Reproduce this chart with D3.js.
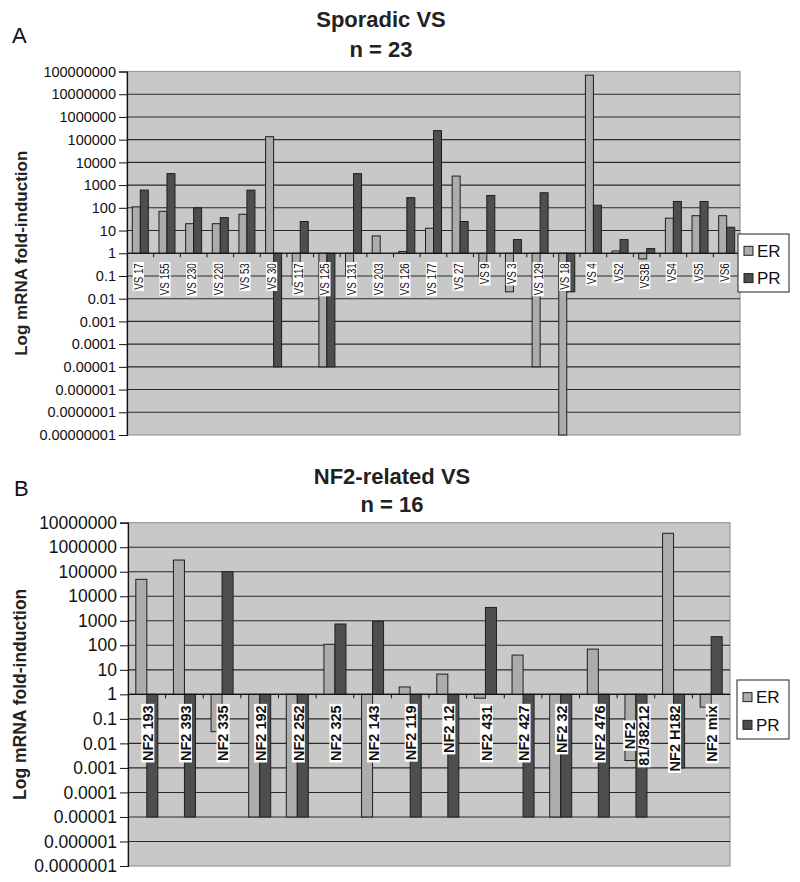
<!DOCTYPE html>
<html><head><meta charset="utf-8">
<script src="https://cdn.jsdelivr.net/npm/d3@7"></script>
<style>body{margin:0;background:#fff}</style>
</head><body><svg id="c" width="800" height="882"></svg>
<script>
const seriesNames = ["ER", "PR"];

const sporadicCats = ["VS 17","VS 155","VS 230","VS 220","VS 53","VS 30","VS 117","VS 125","VS 131","VS 203","VS 126","VS 177","VS 27","VS 9","VS 3","VS 129","VS 18","VS 4","VS2","VS3B","VS4","VS5","VS6"];
const sporadicER = [110,70,20,20,52,135000,0.04,0.00001,0.1,5.8,1.2,12.6,2500,0.1,0.02,0.00001,0.00000001,69000000,1.26,0.56,35,45,45];
const sporadicPR = [600,3200,100,37,600,0.00001,25,0.00001,3200,1,280,250000,25,350,4,460,0.02,130,4,1.6,190,190,14];
const sporadicTicks = ["100000000","10000000","1000000","100000","10000","1000","100","10","1","0.1","0.01","0.001","0.0001","0.00001","0.000001","0.0000001","0.00000001"];

const nf2Cats = ["NF2 193","NF2 393","NF2 335","NF2 192","NF2 252","NF2 325","NF2 143","NF2 119","NF2 12","NF2 431","NF2 427","NF2 32","NF2 476","NF2\n81/38212","NF2 H182","NF2 mix"];
const nf2ER = [49000,300000,0.03,0.00001,0.00001,110,0.00001,2,6.7,0.7,40,0.00001,70,0.002,3700000,0.3];
const nf2PR = [0.00001,0.00001,100000,0.00001,0.00001,740,950,0.00001,0.00001,3500,0.00001,0.00001,0.00001,0.00001,0.001,225];
const nf2Ticks = ["10000000","1000000","100000","10000","1000","100","10","1","0.1","0.01","0.001","0.0001","0.00001","0.000001","0.0000001"];

const COLORS = {bg:"#c8c8c8", ER:"#acacac", PR:"#4e4e4e", grid:"#2a2a2a", border:"#9a9a9a"};
const FONT = "Liberation Sans, Arial, sans-serif";
const svg = d3.select("#c");

function panel(cfg) {
  const g = svg.append("g");
  const y = d3.scaleLog().domain([cfg.ymin, cfg.ymax]).range([cfg.bottom, cfg.top]);
  const x0 = d3.scaleBand().domain(cfg.cats).range([cfg.left, cfg.right]).paddingInner(cfg.pad).paddingOuter(cfg.pad/2);
  const x1 = d3.scaleBand().domain(seriesNames).range([0, x0.bandwidth()]);

  g.append("rect").attr("x", cfg.left).attr("y", cfg.top).attr("width", cfg.right-cfg.left).attr("height", cfg.bottom-cfg.top)
    .attr("fill", COLORS.bg).attr("stroke", COLORS.border).attr("stroke-width", 1.2);

  const tickVals = cfg.ticks.map(t => +t);
  g.append("g").selectAll("line").data(tickVals.filter(v => v !== cfg.ymin && v !== cfg.ymax)).join("line")
    .attr("x1", cfg.left).attr("x2", cfg.right).attr("y1", d => y(d)).attr("y2", d => y(d))
    .attr("stroke", COLORS.grid).attr("stroke-width", 1.1);

  const data = [];
  cfg.cats.forEach((c, i) => {
    data.push({cat: c, s: "ER", v: cfg.er[i]});
    data.push({cat: c, s: "PR", v: cfg.pr[i]});
  });
  g.append("g").selectAll("rect").data(data).join("rect")
    .attr("x", d => x0(d.cat) + x1(d.s))
    .attr("width", x1.bandwidth())
    .attr("y", d => y(Math.max(d.v, 1)))
    .attr("height", d => Math.abs(y(d.v) - y(1)))
    .attr("fill", d => COLORS[d.s]).attr("stroke", "#1e1e1e").attr("stroke-width", 1);

  const y1 = y(1);
  g.append("line").attr("x1", cfg.left).attr("x2", cfg.right).attr("y1", y1).attr("y2", y1).attr("stroke", "#111").attr("stroke-width", 1.2);
  const step = x0.step();
  g.append("g").selectAll("line").data(d3.range(1, cfg.cats.length)).join("line")
    .attr("x1", d => cfg.left + d*step).attr("x2", d => cfg.left + d*step)
    .attr("y1", y1).attr("y2", y1 + 4).attr("stroke", "#111").attr("stroke-width", 1);

  const ax = d3.axisLeft(y).tickValues(tickVals).tickFormat((d, i) => cfg.ticks[i]).tickSize(8).tickPadding(3);
  const axg = g.append("g").attr("transform", `translate(${cfg.left},0)`).call(ax);
  axg.select(".domain").attr("stroke", "#111").attr("stroke-width", 1.2);
  axg.selectAll(".tick line").attr("stroke", "#111");
  axg.selectAll("text").attr("font-family", FONT).attr("font-size", cfg.tickFont).attr("fill", "#111");

  cfg.cats.forEach(c => {
    const lines = c.split("\n");
    const cx = x0(c) + x0.bandwidth()/2 + cfg.labDx;
    const lg = g.append("g").attr("transform", `translate(${cx},${y1 + cfg.labOff}) rotate(-90) scale(${cfg.catScale},1)`);
    const lh = cfg.catFont * 1.0;
    const texts = lines.map((ln, k) => {
      const dy = (k - (lines.length-1)/2) * lh;
      return lg.append("text").text(ln).attr("y", dy).attr("dy", "0.36em")
        .attr("font-family", FONT).attr("font-size", cfg.catFont).attr("font-weight", cfg.catWeight)
        .attr("fill", "#111");
    });
    const lens = texts.map(t => t.node().getComputedTextLength());
    const maxL = d3.max(lens);
    texts.forEach((t, k) => {
      const L = lens[k];
      const xEnd = -(maxL - L)/2;
      t.attr("x", xEnd).attr("text-anchor", "end");
      const dy = (k - (lines.length-1)/2) * lh;
      lg.insert("rect", "text").attr("x", xEnd - L - 1.5).attr("y", dy - cfg.catFont*0.45).attr("width", L + 3).attr("height", cfg.catFont*0.9).attr("fill", "#fff");
    });
  });

  cfg.title.forEach((t, k) => {
    svg.append("text").text(t).attr("x", cfg.titleX).attr("y", cfg.titleY[k]).attr("text-anchor", "middle")
      .attr("font-family", FONT).attr("font-weight", "bold").attr("font-size", cfg.titleFont).attr("fill", "#222");
  });
  svg.append("text").text(cfg.letter).attr("x", cfg.letterX).attr("y", cfg.letterY)
    .attr("font-family", FONT).attr("font-size", 22).attr("fill", "#111");
  svg.append("text").text("Log mRNA fold-induction")
    .attr("transform", `translate(${cfg.yTitleX},${(cfg.top+cfg.bottom)/2}) rotate(-90)`).attr("text-anchor", "middle")
    .attr("font-family", FONT).attr("font-weight", "bold").attr("font-size", cfg.yTitleFont).attr("fill", "#222");

  const L = cfg.legend;
  const lgd = svg.append("g");
  lgd.append("rect").attr("x", L.x).attr("y", L.y).attr("width", L.w).attr("height", L.h).attr("fill", "#fff").attr("stroke", "#222").attr("stroke-width", 1);
  seriesNames.forEach((s, k) => {
    const cy = L.y + L.h*(k === 0 ? 0.29 : 0.76);
    lgd.append("rect").attr("x", L.x + 6).attr("y", cy - 4.5).attr("width", 9).attr("height", 9).attr("fill", COLORS[s]).attr("stroke", "#222");
    lgd.append("text").text(s).attr("x", L.x + 19).attr("y", cy).attr("dy", "0.36em")
      .attr("font-family", FONT).attr("font-size", 17).attr("fill", "#111");
  });
}

panel({cats: sporadicCats, er: sporadicER, pr: sporadicPR, ticks: sporadicTicks,
  ymin: 1e-8, ymax: 1e8, left: 127, right: 740, top: 71.5, bottom: 435, pad: 0.4,
  tickFont: 14.5, catFont: 12.5, catScale: 0.78, catWeight: "normal", labOff: 10, labDx: -2,
  title: ["Sporadic VS", "n = 23"], titleX: 381, titleY: [27, 57], titleFont: 22,
  letter: "A", letterX: 12, letterY: 43, yTitleX: 27, yTitleFont: 17,
  legend: {x: 738, y: 234, w: 51, h: 58}});

panel({cats: nf2Cats, er: nf2ER, pr: nf2PR, ticks: nf2Ticks,
  ymin: 1e-7, ymax: 1e7, left: 128, right: 730, top: 522.7, bottom: 866, pad: 0.415,
  tickFont: 17.5, catFont: 14.5, catScale: 1, catWeight: "bold", labOff: 11, labDx: 1,
  title: ["NF2-related VS", "n = 16"], titleX: 392, titleY: [484, 512], titleFont: 22,
  letter: "B", letterX: 14, letterY: 496, yTitleX: 26, yTitleFont: 17.5,
  legend: {x: 737, y: 680, w: 52, h: 59}});
</script>
</body></html>
